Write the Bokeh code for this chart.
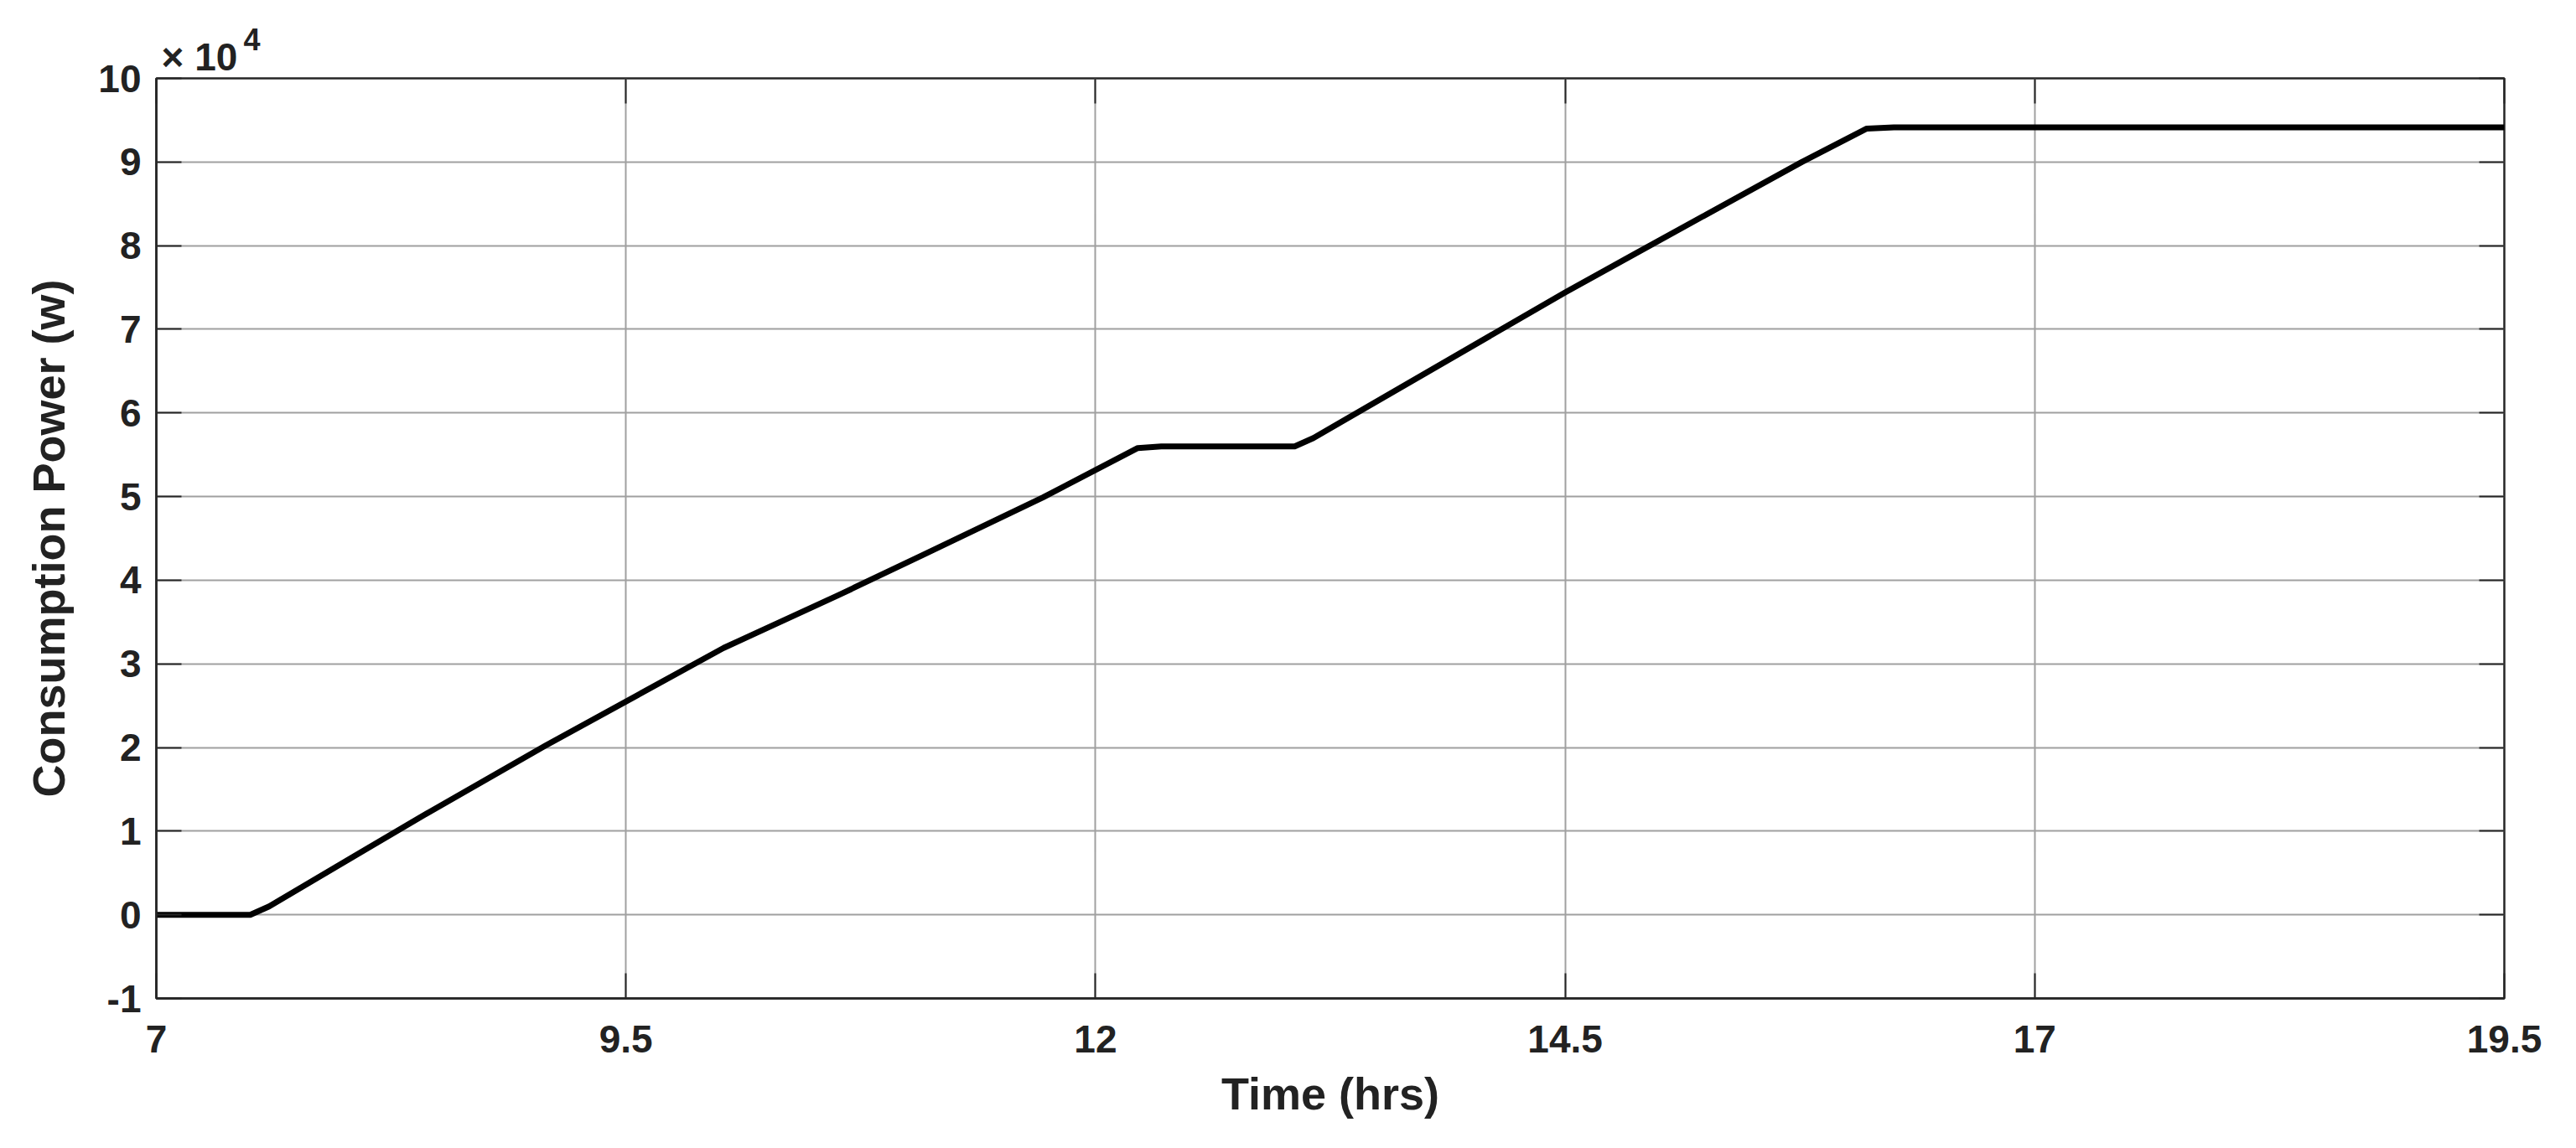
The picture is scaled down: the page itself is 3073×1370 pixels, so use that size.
from bokeh.plotting import figure
from bokeh.models import Range1d, FixedTicker, LinearAxis, Title
from bokeh.embed import file_html
from bokeh.resources import INLINE

# ---- data ----
time_hrs = [7.0, 7.5, 7.6, 8.4, 9.07, 10.02, 10.63, 11.08, 11.72, 12.225, 12.35,
            13.06, 13.16, 14.5, 14.87, 15.76, 16.106, 16.25, 19.5]
power_w = [0, 0, 1000, 11600, 20200, 31900, 38200, 43000, 49900, 55800, 56000,
           56000, 57000, 74400, 79000, 90000, 94000, 94150, 94150]

x_ticks = [7, 9.5, 12, 14.5, 17, 19.5]
x_tick_labels = ["7", "9.5", "12", "14.5", "17", "19.5"]
y_tick_units = [-1, 0, 1, 2, 3, 4, 5, 6, 7, 8, 9, 10]
y_scale = 10000
y_ticks = [v * y_scale for v in y_tick_units]
y_tick_labels = [str(v) for v in y_tick_units]
exponent_base = "× 10"
exponent_power = "4"

FONT = "Liberation Sans"
TXT = "#222222"
AX = "#262626"

p = figure(title=None, frame_width=2801, frame_height=1098,
           min_border_left=186, min_border_top=93,
           min_border_right=60, min_border_bottom=150,
           x_range=Range1d(7, 19.5), y_range=Range1d(-10000, 100000),
           output_backend="svg", toolbar_location=None,
           background_fill_color="white", border_fill_color="white")

p.outline_line_color = AX
p.outline_line_width = 2.5

# grid
p.xgrid.ticker = FixedTicker(ticks=x_ticks)
p.ygrid.ticker = FixedTicker(ticks=y_ticks)
for g in (p.xgrid, p.ygrid):
    g.grid_line_color = "#a0a0a0"
    g.grid_line_width = 2

# main axes
xa = p.xaxis[0]
ya = p.yaxis[0]
xa.ticker = FixedTicker(ticks=x_ticks)
ya.ticker = FixedTicker(ticks=y_ticks)
xa.major_label_overrides = {t: l for t, l in zip(x_ticks, x_tick_labels)}
ya.major_label_overrides = {t: l for t, l in zip(y_ticks, y_tick_labels)}
xa.axis_label = "Time (hrs)"
ya.axis_label = "Consumption Power (w)"

for a in (xa, ya):
    a.axis_line_color = AX
    a.axis_line_width = 2.5
    a.major_tick_in = 30
    a.major_tick_out = 0
    a.major_tick_line_color = AX
    a.major_tick_line_width = 2
    a.minor_tick_line_color = None
    a.major_label_text_font = FONT
    a.major_label_text_font_style = "bold"
    a.major_label_text_font_size = "46px"
    a.major_label_text_color = TXT
    a.axis_label_text_font = FONT
    a.axis_label_text_font_style = "bold"
    a.axis_label_text_font_size = "54px"
    a.axis_label_text_color = TXT

xa.major_label_standoff = 32
xa.axis_label_standoff = 16
ya.major_label_standoff = 18
ya.axis_label_standoff = 26

# box ticks on top and right
top_ax = LinearAxis(ticker=FixedTicker(ticks=x_ticks),
                    major_label_overrides={t: "" for t in x_ticks})
right_ax = LinearAxis(ticker=FixedTicker(ticks=y_ticks),
                      major_label_overrides={t: "" for t in y_ticks})
for a in (top_ax, right_ax):
    a.axis_line_color = None
    a.major_tick_in = 30
    a.major_tick_out = 0
    a.major_tick_line_color = AX
    a.major_tick_line_width = 2
    a.minor_tick_line_color = None
    a.major_label_text_font_size = "1px"
    a.major_label_standoff = 0
p.add_layout(top_ax, "above")
p.add_layout(right_ax, "right")

# exponent label (x10^4) above the top-left corner
t_base = Title(text=exponent_base, align="left", offset=6, standoff=0,
               text_font=FONT, text_font_style="bold", text_font_size="46px",
               text_color=TXT)
t_pow = Title(text=exponent_power, align="left", offset=104, standoff=-40,
              text_font=FONT, text_font_style="bold", text_font_size="36px",
              text_color=TXT)
p.add_layout(t_base, "above")
p.add_layout(t_pow, "above")

# curve
p.line(time_hrs, power_w, line_color="black", line_width=7, line_join="round")

open("out.html", "w").write(file_html(p, INLINE))
